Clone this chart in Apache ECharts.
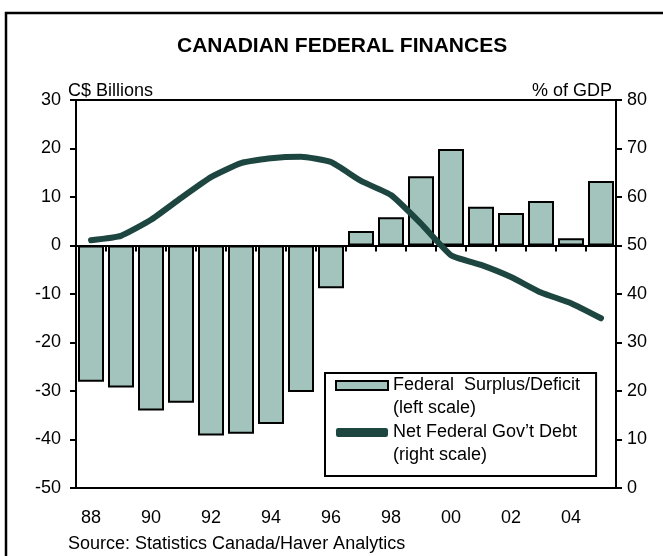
<!DOCTYPE html>
<html>
<head>
<meta charset="utf-8">
<script src="https://cdn.jsdelivr.net/npm/echarts@6/dist/echarts.min.js"></script>
<style>
  html, body { margin: 0; padding: 0; background: #fff; }
  #chart { width: 663px; height: 556px; }
</style>
</head>
<body>
<div id="chart"></div>
<script>
// Fiscal years 1988-2005
const years = ['88','89','90','91','92','93','94','95','96','97','98','99','00','01','02','03','04','05'];
// Federal surplus / deficit, C$ billions (left scale)
const surplusDeficit = [-28.1, -29.3, -34.0, -32.4, -39.2, -38.8, -36.8, -30.2, -8.8, 3.0, 5.8, 14.3, 19.9, 8.0, 6.7, 9.2, 1.5, 13.3];
// Net federal government debt, % of GDP (right scale)
const netDebt = [51.1, 52.0, 55.3, 59.8, 64.1, 67.0, 68.0, 68.3, 67.2, 63.3, 60.4, 54.5, 48.0, 46.0, 43.5, 40.3, 38.1, 35.0];

const FONT = '"Liberation Sans", Arial, sans-serif';
const BAR_FILL = '#a3c4bc';
const LINE_COLOR = '#1e4641';
const FS = 18;

const chart = echarts.init(document.getElementById('chart'), null, { renderer: 'canvas' });

chart.setOption({
  animation: false,
  backgroundColor: '#fff',
  textStyle: { fontFamily: FONT },
  title: {
    text: 'CANADIAN FEDERAL FINANCES',
    left: 172,
    top: 31,
    textStyle: { fontFamily: FONT, fontWeight: 'bold', fontSize: 21, color: '#000' }
  },
  graphic: [
    {
      type: 'rect',
      shape: { x: 6, y: 13, width: 700, height: 600 },
      style: { fill: null, stroke: '#000', lineWidth: 2.5 },
      silent: true
    },
    {
      type: 'text',
      left: 68,
      top: 535,
      style: { text: 'Source: Statistics Canada/Haver Analytics', fontFamily: FONT, fontSize: FS, fill: '#000' },
      silent: true
    }
  ],
  grid: {
    left: 76, right: 47, top: 100, bottom: 68,
    show: true, borderColor: '#000', borderWidth: 2, backgroundColor: 'transparent'
  },
  legend: {
    orient: 'vertical',
    left: 325,
    top: 373,
    padding: [-22, 16, 9, 10],
    backgroundColor: '#fff',
    borderColor: '#000',
    borderWidth: 2,
    itemWidth: 52,
    itemHeight: 9,
    itemGap: -22,
    selectedMode: false,
    // a blank leading line keeps the first text line level with the key
    formatter: name => '\n' + name,
    textStyle: { fontFamily: FONT, fontSize: FS, color: '#000', lineHeight: 23 },
    data: [
      { name: 'Federal  Surplus/Deficit\n(left scale)', icon: 'rect' },
      { name: 'Net Federal Gov\u2019t Debt\n(right scale)', icon: 'roundRect' }
    ]
  },
  xAxis: [
    {
      type: 'category',
      data: years,
      position: 'bottom',
      axisLine: { onZero: false, lineStyle: { color: '#000', width: 2 } },
      axisTick: { show: false },
      axisLabel: { interval: 1, margin: 21, fontSize: FS, color: '#000', fontFamily: FONT },
      splitLine: { show: false }
    },
    {
      type: 'category',
      data: years,
      position: 'top',
      axisLine: { onZero: true, onZeroAxisIndex: 0, lineStyle: { color: '#000', width: 2 } },
      axisTick: { show: true, inside: true, length: 6, lineStyle: { color: '#000', width: 2 } },
      axisLabel: { show: false },
      splitLine: { show: false }
    }
  ],
  yAxis: [
    {
      type: 'value',
      min: -50, max: 30, interval: 10,
      position: 'left',
      name: 'C$ Billions',
      nameLocation: 'end',
      nameGap: 0,
      nameMoveOverlap: false,
      nameTextStyle: { fontFamily: FONT, fontSize: FS, color: '#000', align: 'left', padding: [0, 0, 0, -8] },
      axisLine: { show: true, lineStyle: { color: '#000', width: 2 } },
      axisTick: { show: true, length: 6, lineStyle: { color: '#000', width: 2 } },
      axisLabel: { margin: 15, fontSize: FS, color: '#000', fontFamily: FONT },
      splitLine: { show: false }
    },
    {
      type: 'value',
      min: 0, max: 80, interval: 10,
      position: 'right',
      name: '% of GDP',
      nameLocation: 'end',
      nameGap: 0,
      nameMoveOverlap: false,
      nameTextStyle: { fontFamily: FONT, fontSize: FS, color: '#000', align: 'right', padding: [0, 4, 0, 0] },
      axisLine: { show: true, lineStyle: { color: '#000', width: 2 } },
      axisTick: { show: true, length: 6, lineStyle: { color: '#000', width: 2 } },
      axisLabel: { margin: 11, fontSize: FS, color: '#000', fontFamily: FONT },
      splitLine: { show: false }
    }
  ],
  series: [
    {
      name: 'Federal  Surplus/Deficit\n(left scale)',
      type: 'bar',
      xAxisIndex: 0,
      yAxisIndex: 0,
      data: surplusDeficit,
      barWidth: 26,
      itemStyle: { color: BAR_FILL, borderColor: '#000', borderWidth: 2 },
      z: 2
    },
    {
      name: 'Net Federal Gov\u2019t Debt\n(right scale)',
      type: 'line',
      xAxisIndex: 0,
      yAxisIndex: 1,
      data: netDebt,
      symbol: 'none',
      smooth: 0.15,
      lineStyle: { color: LINE_COLOR, width: 6, cap: 'round', join: 'round' },
      itemStyle: { color: LINE_COLOR },
      z: 4
    }
  ]
});
</script>
</body>
</html>
